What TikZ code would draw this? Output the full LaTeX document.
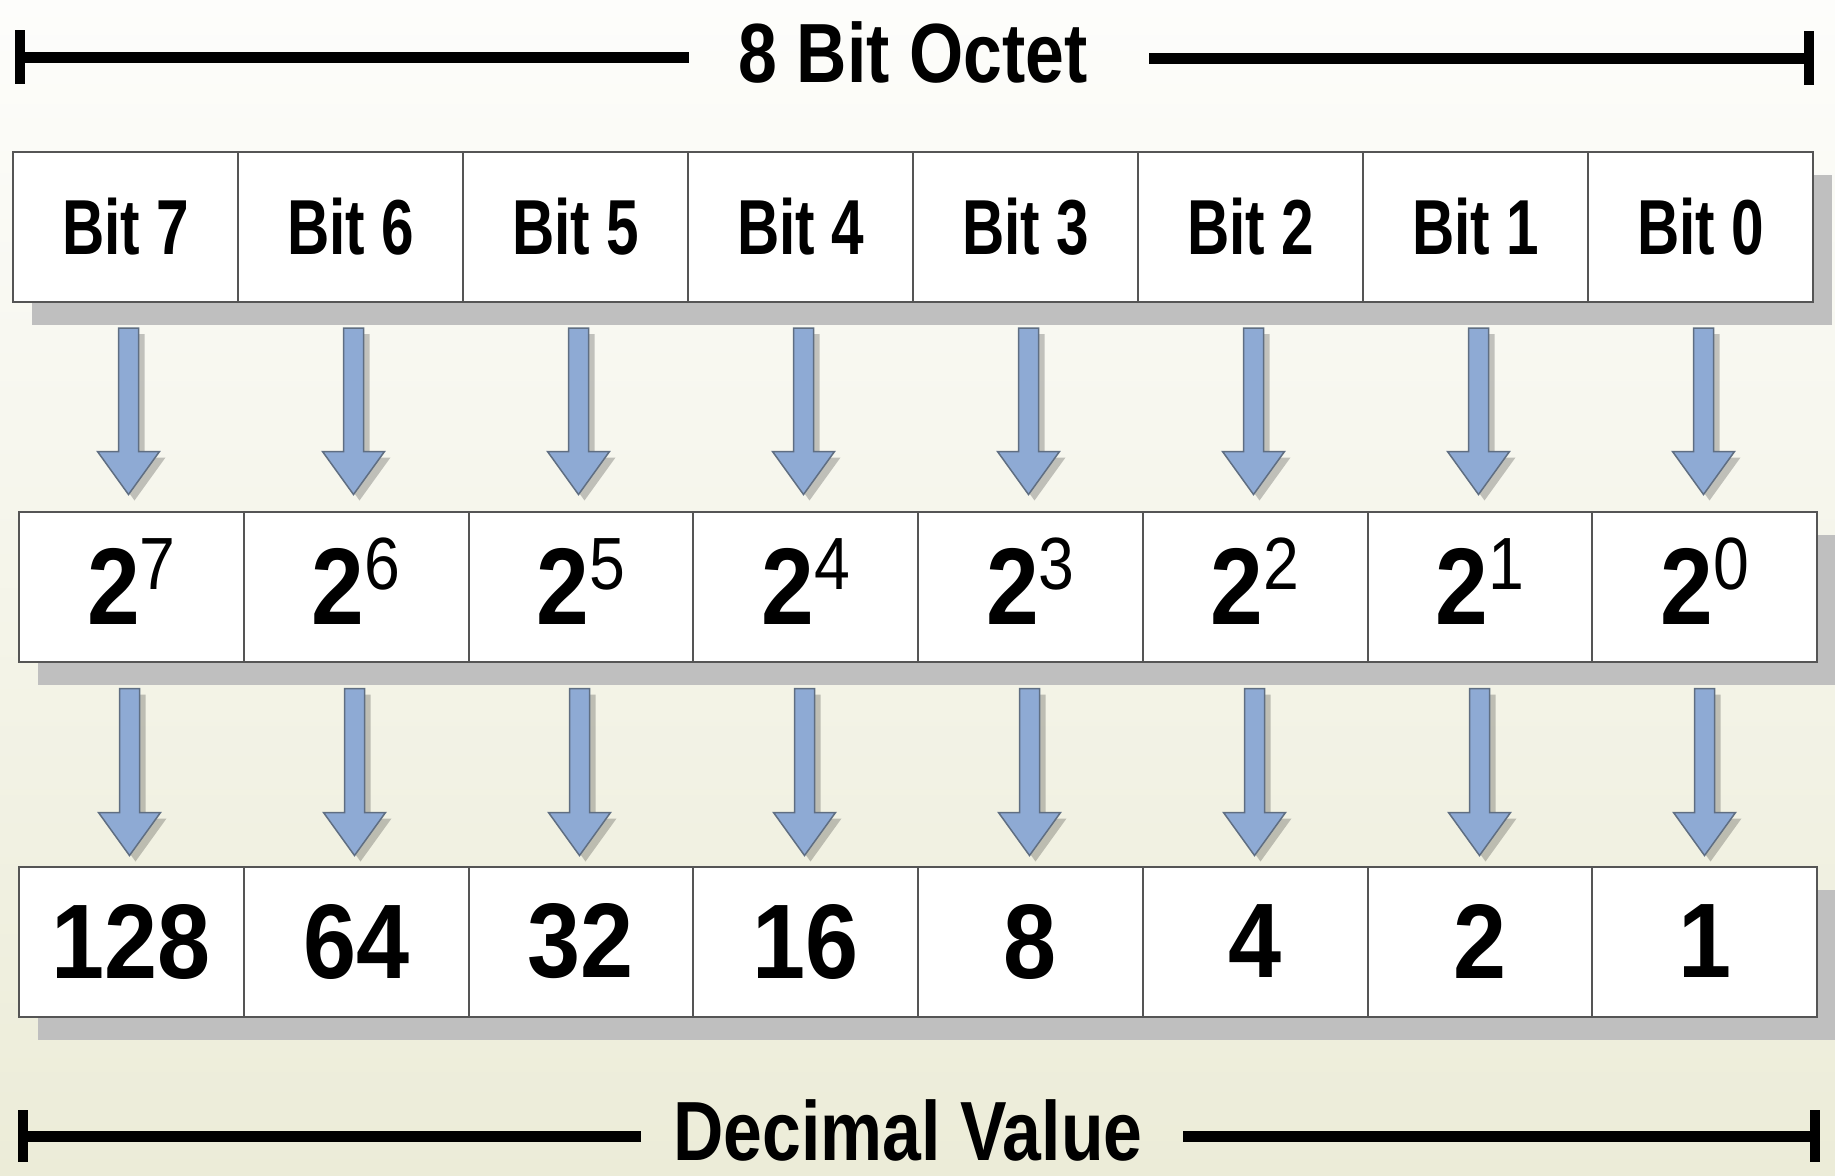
\documentclass[tikz,border=0pt]{standalone}
\usepackage{fontspec}
\setmainfont{Liberation Sans}
\newfontfamily\ttlfont{Liberation Sans}[FakeStretch=0.83]
\newfontfamily\bitfont{Liberation Sans}[FakeStretch=0.75]
\newfontfamily\numfont{Liberation Sans}[FakeStretch=0.9]
\newfontfamily\powfont{Liberation Sans}[FakeStretch=0.87]
\usetikzlibrary{calc}
\pgfdeclarelayer{bglayer}
\pgfdeclarelayer{shadowlayer}
\pgfsetlayers{bglayer,shadowlayer,main}
\definecolor{arrowblue}{RGB}{142,170,212}
\definecolor{arrowedge}{RGB}{95,110,130}
\definecolor{boxedge}{RGB}{85,85,85}
\definecolor{shadowgray}{RGB}{191,191,191}
\definecolor{bgtop}{RGB}{253,253,251}
\definecolor{bgbot}{RGB}{236,236,216}
\newcommand\arrowpoly[4]{($(#1)+(-10+#3,#4)$) -- ($(#1)+(10+#3,#4)$) -- ($(#2)+(10+#3,-43+#4)$) -- ($(#2)+(31+#3,-43+#4)$) -- ($(#2)+(#3,#4)$) -- ($(#2)+(-31+#3,-43+#4)$) -- ($(#2)+(-10+#3,-43+#4)$) -- cycle}
\begin{document}
\begin{tikzpicture}[x=1pt,y=-1pt,
  cell/.style={draw=boxedge,line width=2pt,fill=white,inner sep=0pt,outer sep=0pt,minimum height=150pt},
  bitcell/.style={cell,minimum width=225pt,font={\bitfont\bfseries\fontsize{78}{80}\selectfont}},
  powcell/.style={cell,minimum width=224.75pt,font={\powfont\bfseries\fontsize{109}{110}\selectfont}},
  numcell/.style={cell,minimum width=224.75pt,font={\numfont\bfseries\fontsize{106}{108}\selectfont}},
  ttl/.style={inner sep=0pt,font={\ttlfont\bfseries\fontsize{84}{86}\selectfont}},
  barline/.style={line width=11pt,black},
  bartick/.style={line width=10pt,black},
  arrowst/.style={fill=arrowblue,draw=arrowedge,line width=1.5pt,line join=miter},
  arrowshd/.style={fill=black,opacity=0.22},
  boxshd/.style={fill=shadowgray}
]
\useasboundingbox (0,0) rectangle (1835,1175);
\begin{pgfonlayer}{bglayer}
  \shade[top color=bgtop,bottom color=bgbot] (0,0) rectangle (1835,1175);
\end{pgfonlayer}

% top bracket
\node[ttl] (octet) at (913,52) {8 Bit Octet};
\coordinate (otl) at (20,57);
\coordinate (otr) at (1809,58);
\draw[barline,shorten >=49pt] (otl) -- (octet.west |- otl);
\draw[barline,shorten >=61pt] (otr) -- (octet.east |- otr);
\draw[bartick] ($(otl)+(0,-27)$) -- ($(otl)+(0,27)$);
\draw[bartick] ($(otr)+(0,-27)$) -- ($(otr)+(0,27)$);

% rows of cells
\foreach \i/\lab in {0/7,1/6,2/5,3/4,4/3,5/2,6/1,7/0}{
  \node[bitcell] (t\i) at ({13+225*(\i+0.5)},227) {Bit \lab};
  \node[powcell] (p\i) at ({19+224.75*(\i+0.5)},586.5) {2\raisebox{35pt}[0pt][0pt]{\mdseries\fontsize{74}{75}\selectfont\lab}};
}
\foreach \i/\val in {0/128,1/64,2/32,3/16,4/8,5/4,6/2,7/1}{
  \node[numcell] (n\i) at ({19+224.75*(\i+0.5)},941.5) {\val};
}

% box shadows
\begin{pgfonlayer}{shadowlayer}
  \fill[boxshd] ($(t0.north west)+(19,23)$) rectangle ($(t7.south east)+(19,23)$);
  \fill[boxshd] ($(p0.north west)+(19,23)$) rectangle ($(p7.south east)+(19,23)$);
  \fill[boxshd] ($(n0.north west)+(19,23)$) rectangle ($(n7.south east)+(19,23)$);
\end{pgfonlayer}

% block arrows
\foreach \i in {0,...,7}{
  \path let \p1=(t\i.south), \p2=(p\i.north) in
    coordinate (sa\i) at (\x1+3pt,\y1-26pt)
    coordinate (ea\i) at (\x1+3pt,\y2+17pt);
  \path let \p1=(p\i.south), \p2=(n\i.north), \p3=(t\i.south) in
    coordinate (sb\i) at (\x3+4pt,\y1-27pt)
    coordinate (eb\i) at (\x3+4pt,\y2+11pt);
  \begin{pgfonlayer}{shadowlayer}
    \fill[arrowshd] \arrowpoly{sa\i}{ea\i}{6}{6};
    \fill[arrowshd] \arrowpoly{sb\i}{eb\i}{6}{6};
  \end{pgfonlayer}
  \draw[arrowst] \arrowpoly{sa\i}{ea\i}{0}{0};
  \draw[arrowst] \arrowpoly{sb\i}{eb\i}{0}{0};
}

% bottom bracket
\node[ttl] (decv) at (908,1130) {Decimal Value};
\coordinate (dbl) at (23,1136);
\coordinate (dbr) at (1815,1136);
\draw[barline,shorten >=32pt] (dbl) -- (decv.west |- dbl);
\draw[barline,shorten >=40pt] (dbr) -- (decv.east |- dbr);
\draw[bartick] ($(dbl)+(0,-26)$) -- ($(dbl)+(0,26)$);
\draw[bartick] ($(dbr)+(0,-26)$) -- ($(dbr)+(0,26)$);
\end{tikzpicture}
\end{document}
